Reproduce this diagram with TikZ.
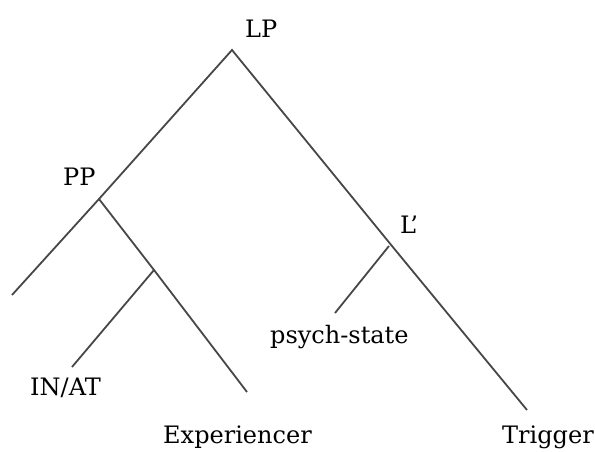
\documentclass[tikz,border=0pt]{standalone}
\usepackage{fontspec}
\setmainfont{DejaVu Serif}
\begin{document}
\begin{tikzpicture}[x=1pt,y=-1pt,
  branch/.style={draw=black!72,line width=1.8pt},
  lbl/.style={inner sep=0pt,anchor=base west,font=\fontsize{24}{24}\selectfont}]
\useasboundingbox (0,0) rectangle (595,452);
% junctions and ends
\coordinate (top) at (232,50);
\coordinate (ppj) at (99,199);
\coordinate (leftend) at (12,295);
\coordinate (inj) at (154,270);
\coordinate (inend) at (72,367);
\coordinate (expend) at (247,392);
\coordinate (lbar) at (389,246);
\coordinate (lbarm) at (392,246);
\coordinate (psend) at (335,313);
\coordinate (trend) at (527,410);
% labels
\node[lbl] (LP) at (245,38) {LP};
\node[lbl] (PP) at (63,185) {PP};
\node[lbl] (Lb) at (400,233) {L’};
\node[lbl] (INAT) at (30,395) {IN/AT};
\node[lbl] (Exp) at (163,443) {Experiencer};
\node[lbl] (psy) at (270,343) {psych-state};
\node[lbl] (Trig) at (502,443) {Trigger};
% branches
\draw[branch] (leftend) -- (ppj) -- (top) -- (lbarm) -- (trend);
\draw[branch] (ppj) -- (inj) -- (expend);
\draw[branch] (inj) -- (inend);
\draw[branch] (lbar) -- (psend);
\end{tikzpicture}
\end{document}
